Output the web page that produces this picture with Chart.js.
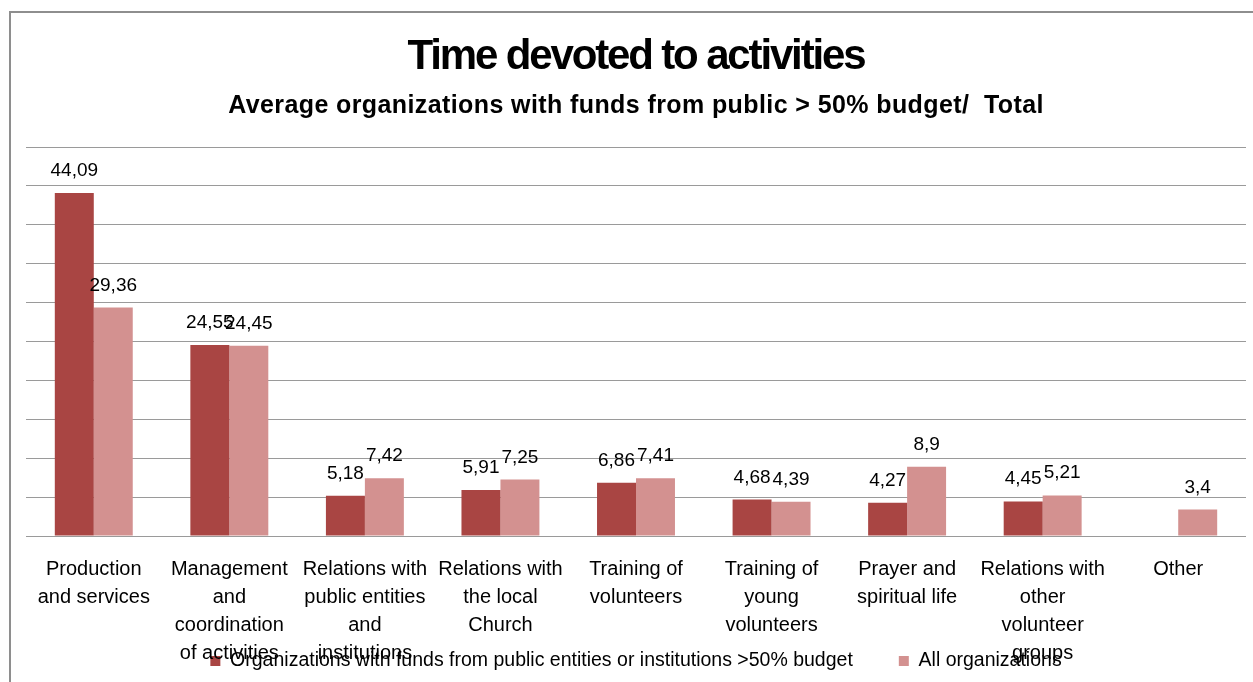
<!DOCTYPE html>
<html>
<head>
<meta charset="utf-8">
<title>Time devoted to activities</title>
<script src="https://cdn.jsdelivr.net/npm/chart.js@4.4.0/dist/chart.umd.min.js"></script>
<style>
  body { margin: 0; background: #fff; }
  #wrap { position: relative; width: 1253px; height: 682px; overflow: hidden; }
  #frame { position: absolute; left: 9px; top: 11px; width: 1300px; height: 700px;
           border-left: 2px solid #8e8e8e; border-top: 2px solid #8e8e8e; }
  canvas { position: absolute; left: 0; top: 0; }
</style>
</head>
<body>
<div id="wrap">
  <div id="frame"></div>
  <canvas id="myChart" width="1253" height="682"></canvas>
</div>
<script>
const categories = [
    ['Production', 'and services'],
    ['Management', 'and', 'coordination', 'of activities'],
    ['Relations with', 'public entities', 'and', 'institutions'],
    ['Relations with', 'the local', 'Church'],
    ['Training of', 'volunteers'],
    ['Training of', 'young', 'volunteers'],
    ['Prayer and', 'spiritual life'],
    ['Relations with', 'other', 'volunteer', 'groups'],
    ['Other']
];
const seriesNames = [
    'Organizations with funds from public entities or institutions >50% budget',
    'All organizations'
];
const publicFunds = [44.09, 24.55, 5.18, 5.91, 6.86, 4.68, 4.27, 4.45, null];
const allOrgs = [29.36, 24.45, 7.42, 7.25, 7.41, 4.39, 8.9, 5.21, 3.4];
const yMin = 0;
const yMax = 50;
const yStep = 5;

const titleText = 'Time devoted to activities';
const subtitleText = 'Average organizations with funds from public > 50% budget/  Total';
const FONT = '"Liberation Sans", Arial, sans-serif';

// letter spacing per text block, and let the x labels run past the axis box
// so the last lines overlap the legend as in the original
const spacing = {
    id: 'spacing',
    afterLayout(chart) {
        chart.boxes.forEach(box => {
            if (box._spaced) return;
            let ls = '0px';
            if (box === chart.titleBlock) ls = '-2.15px';
            else if (box.options && box.options.text === subtitleText) ls = '0.4px';
            else if (box.axis === 'x') {
                ls = '-1.2px';
                box._computeLabelArea = () => undefined;
            }
            const draw = box.draw;
            box.draw = function (area) {
                const c = this.ctx;
                c.save();
                c.letterSpacing = ls;
                draw.call(this, area);
                c.restore();
            };
            box._spaced = true;
        });
    }
};

// value labels above bars, with decimal comma
const valueLabels = {
    id: 'valueLabels',
    afterDatasetsDraw(chart) {
        const ctx = chart.ctx;
        ctx.save();
        ctx.font = '19px ' + FONT;
        ctx.fillStyle = '#000';
        ctx.textAlign = 'center';
        ctx.textBaseline = 'alphabetic';
        chart.data.datasets.forEach((ds, i) => {
            chart.getDatasetMeta(i).data.forEach((bar, j) => {
                const v = ds.data[j];
                if (v === null || v === undefined) return;
                ctx.fillText(String(v).replace('.', ','), bar.x, bar.y - 17);
            });
        });
        ctx.restore();
    }
};

const ctx = document.getElementById('myChart');

new Chart(ctx, {
    type: 'bar',
    data: {
        labels: categories,
        datasets: [
            {
                label: seriesNames[0],
                data: publicFunds,
                backgroundColor: '#a94543',
                borderWidth: 0
            },
            {
                label: seriesNames[1],
                data: allOrgs,
                backgroundColor: '#d39190',
                borderWidth: 0
            }
        ]
    },
    options: {
        responsive: false,
        animation: false,
        devicePixelRatio: 1,
        layout: { padding: { left: 26, right: 7, top: 0, bottom: 1.25 } },
        datasets: {
            bar: { categoryPercentage: 0.575, barPercentage: 1 }
        },
        scales: {
            x: {
                grid: { display: false },
                border: { display: false },
                ticks: {
                    color: '#000',
                    padding: 11,
                    maxRotation: 0,
                    autoSkip: false,
                    font: { family: FONT, size: 20, lineHeight: 1.4 }
                },
                afterFit: (scale) => { scale.height = 69.25; }
            },
            y: {
                min: yMin,
                max: yMax,
                ticks: { stepSize: yStep, display: false },
                grid: { color: '#9a9a9a', lineWidth: 1, drawTicks: false },
                border: { display: false },
                afterFit: (scale) => { scale.width = 0; }
            }
        },
        plugins: {
            title: {
                display: true,
                text: titleText,
                color: '#000',
                font: { family: FONT, size: 42, weight: 'bold' },
                padding: { top: 32, bottom: 0 }
            },
            subtitle: {
                display: true,
                text: subtitleText,
                color: '#000',
                font: { family: FONT, size: 25, weight: 'bold' },
                padding: { top: 8.5, bottom: 26.1 }
            },
            legend: {
                position: 'bottom',
                labels: {
                    color: '#000',
                    boxWidth: 10,
                    boxHeight: 10,
                    padding: 46,
                    font: { family: FONT, size: 19.5 }
                }
            },
            tooltip: { enabled: false }
        }
    },
    plugins: [spacing, valueLabels]
});
</script>
</body>
</html>
